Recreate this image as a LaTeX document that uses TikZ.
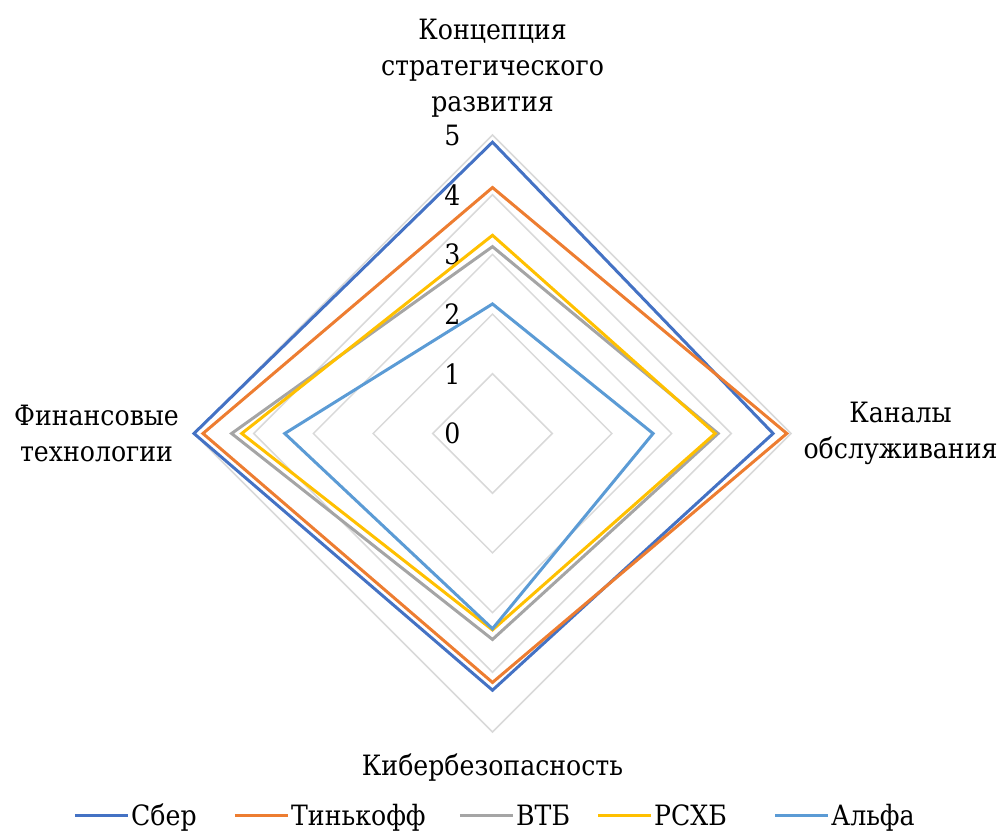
\documentclass[tikz,border=0pt]{standalone}
\usepackage{fontspec}
\setmainfont{DejaVu Serif Condensed}
\definecolor{sber}{HTML}{4472C4}
\definecolor{tink}{HTML}{ED7D31}
\definecolor{vtb}{HTML}{A5A5A5}
\definecolor{rshb}{HTML}{FFC000}
\definecolor{alfa}{HTML}{5B9BD5}
\definecolor{gridgray}{HTML}{D9D9D9}
\begin{document}
\begin{tikzpicture}[x=1pt, y=1pt,
		lbl/.style={font=\fontsize{28}{36}\selectfont, inner sep=0pt, align=center},
		gridline/.style={draw=gridgray, line width=1.5pt},
		series/.style={line width=3pt, line join=miter}]
		\def\u{59.7}
		\useasboundingbox (-492.5,-398.5) rectangle (508.5,433.5);
		
		% grid and scale
		\foreach \v in {1,...,5}
			\draw [gridline] (0,\v*\u) -- (\v*\u,0) -- (0,-\v*\u) -- (-\v*\u,0) -- cycle;
		\foreach \v in {0,...,5}
			\node [lbl] (tick\v) at (-40,\v*\u) {\v};
		
		% series: top, right, bottom, left
		\foreach \t/\r/\b/\l/\c in {4.88/4.70/4.30/5.00/sber, 4.12/4.93/4.17/4.85/tink, 3.13/3.78/3.45/4.37/vtb, 3.32/3.73/3.29/4.20/rshb, 2.17/2.69/3.27/3.48/alfa}
			\draw [series, \c] (0,\t*\u) -- (\r*\u,0) -- (0,-\b*\u) -- (-\l*\u,0) -- cycle;
		
		% axis labels
		\node [lbl] (concept) at (0,365) {Концепция\\стратегического\\развития};
		\node [lbl] (channels) at (408,0) {Каналы\\обслуживания};
		\node [lbl] (fintech) at (-396,0) {Финансовые\\технологии};
		\node [lbl, anchor=base] (cyber) at (0,-341.5) {Кибербезопасность};
		
		% legend
		\foreach \x/\c/\name in {-417.5/sber/Сбер, -257.5/tink/Тинькофф, -32.5/vtb/ВТБ, 105.5/rshb/РСХБ, 282.5/alfa/Альфа} {
			\coordinate (key\c) at (\x,-381.5);
			\draw [line width=3pt, \c] (key\c) -- ++(53,0) coordinate (keyend\c);
			\node [lbl, anchor=base west] (name\c) at ([xshift=3pt,yshift=-10.5pt]keyend\c) {\name};
		}
	\end{tikzpicture}
\end{document}
